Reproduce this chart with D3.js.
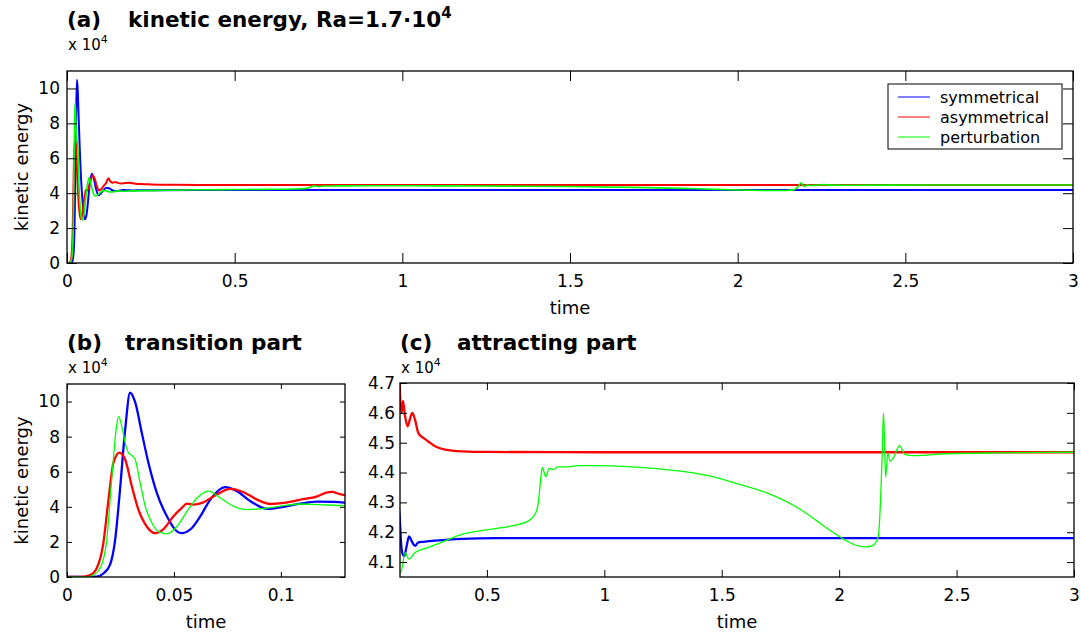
<!DOCTYPE html>
<html>
<head>
<meta charset="utf-8">
<script src="https://cdn.jsdelivr.net/npm/d3@7"></script>
<style>
body { margin: 0; background: #fff; }
text { font-family: "DejaVu Sans", sans-serif; fill: #000; }
</style>
</head>
<body>
<svg id="fig" width="1081" height="637"></svg>
<script>
// kinetic energy in units of 1e4: [time, energy]
const symmetrical = [
  [0, 0], [0.008, 0], [0.0139, 0.02], [0.017, 0.2], [0.0201, 0.69], [0.0225, 2.1],
  [0.0248, 5.0], [0.0272, 8.4], [0.0295, 10.5], [0.0319, 9.95], [0.035, 8.2],
  [0.0381, 6.5], [0.042, 4.8], [0.0467, 3.46], [0.0514, 2.6], [0.0537, 2.5],
  [0.0584, 2.79], [0.0623, 3.45], [0.067, 4.41], [0.074, 5.12], [0.0795, 4.89],
  [0.0858, 4.32], [0.0936, 3.88], [0.1014, 4.0], [0.1092, 4.18], [0.117, 4.3],
  [0.1248, 4.28], [0.1295, 4.24], [0.134, 4.17], [0.14, 4.13], [0.1485, 4.12],
  [0.1584, 4.154], [0.1683, 4.186], [0.1825, 4.166], [0.1939, 4.154], [0.2081, 4.166],
  [0.2294, 4.168], [0.2791, 4.172], [0.3926, 4.178], [0.535, 4.18], [1, 4.18],
  [1.5, 4.18], [2, 4.18], [2.5, 4.18], [3, 4.18]
];
const asymmetrical = [
  [0, 0], [0.006, 0], [0.0108, 0.11], [0.0139, 0.5], [0.017, 1.93], [0.0194, 4.41],
  [0.0217, 6.5], [0.0245, 7.09], [0.0272, 6.7], [0.0303, 5.18], [0.0334, 3.84],
  [0.0373, 2.88], [0.0412, 2.5], [0.0451, 2.73], [0.0498, 3.46], [0.0537, 3.94],
  [0.0561, 4.18], [0.0592, 4.13], [0.0631, 4.22], [0.0686, 4.6], [0.0764, 5.02],
  [0.0826, 4.83], [0.0889, 4.41], [0.0951, 4.16], [0.1014, 4.22], [0.1092, 4.41],
  [0.117, 4.6], [0.1209, 4.79], [0.124, 4.85], [0.1271, 4.74], [0.1303, 4.66],
  [0.1371, 4.6], [0.1428, 4.64], [0.1513, 4.59], [0.1627, 4.555], [0.1726, 4.58],
  [0.1825, 4.6], [0.1939, 4.577], [0.2081, 4.532], [0.2294, 4.516], [0.2507, 4.504],
  [0.2791, 4.488], [0.3217, 4.477], [0.3926, 4.471], [0.5, 4.469], [1, 4.468],
  [1.5, 4.468], [2, 4.468], [2.5, 4.468], [3, 4.468]
];
const perturbation = [
  [0, 0], [0.0092, 0], [0.0123, 0.11], [0.0155, 0.5], [0.0186, 2.12], [0.0209, 5.56],
  [0.023, 8.42], [0.0241, 9.15], [0.0256, 8.6], [0.0272, 7.66], [0.0287, 7.09],
  [0.0303, 6.93], [0.0319, 6.7], [0.0342, 5.37], [0.0366, 4.03], [0.0397, 3.08],
  [0.0436, 2.54], [0.0467, 2.46], [0.0514, 2.88], [0.0561, 3.74], [0.0608, 4.5],
  [0.0662, 4.89], [0.0717, 4.5], [0.078, 4.03], [0.0842, 3.84], [0.0936, 3.93],
  [0.1014, 4.07], [0.1092, 4.16], [0.117, 4.13], [0.1295, 4.07], [0.134, 4.066],
  [0.151, 4.132], [0.168, 4.11], [0.194, 4.132], [0.251, 4.149], [0.322, 4.171],
  [0.393, 4.193], [0.464, 4.204], [0.535, 4.212], [0.606, 4.221], [0.677, 4.238],
  [0.705, 4.26], [0.719, 4.299], [0.729, 4.377], [0.736, 4.416], [0.751, 4.386],
  [0.765, 4.414], [0.783, 4.41], [0.804, 4.419], [0.833, 4.419], [0.89, 4.423],
  [0.961, 4.423], [1.1, 4.42], [1.237, 4.412], [1.379, 4.399], [1.493, 4.38],
  [1.55, 4.366], [1.692, 4.332], [1.834, 4.277], [1.905, 4.238], [1.975, 4.199],
  [2.032, 4.171], [2.082, 4.154], [2.117, 4.151], [2.146, 4.157], [2.167, 4.188],
  [2.177, 4.321], [2.183, 4.454], [2.189, 4.6], [2.198, 4.385], [2.207, 4.466],
  [2.217, 4.438], [2.231, 4.449], [2.257, 4.49], [2.281, 4.46], [2.32, 4.457],
  [2.458, 4.463], [2.685, 4.466], [3, 4.468]
];

const seriesNames = ["symmetrical", "asymmetrical", "perturbation"];
const seriesData = [symmetrical, asymmetrical, perturbation];
const seriesColors = ["#0000ff", "#ff0000", "#00ff00"];

const ticksA = { x: [0, 0.5, 1, 1.5, 2, 2.5, 3], y: [0, 2, 4, 6, 8, 10] };
const ticksB = { x: [0, 0.05, 0.1], y: [0, 2, 4, 6, 8, 10] };
const ticksC = { x: [0.5, 1, 1.5, 2, 2.5, 3], y: [4.1, 4.2, 4.3, 4.4, 4.5, 4.6, 4.7] };

const svg = d3.select("#fig");

function panel(o) {
  const x = d3.scaleLinear().domain(o.xDomain).range([o.left, o.right]);
  const y = d3.scaleLinear().domain(o.yDomain).range([o.bottom, o.top]);
  const w = o.right - o.left, h = o.bottom - o.top;

  svg.append("clipPath").attr("id", "clip" + o.id)
    .append("rect").attr("x", o.left).attr("y", o.top).attr("width", w).attr("height", h);

  const line = d3.line().x(d => x(d[0])).y(d => y(d[1])).curve(d3.curveMonotoneX);
  const g = svg.append("g").attr("clip-path", "url(#clip" + o.id + ")");
  seriesData.forEach((data, i) => {
    g.append("path").datum(data)
      .attr("fill", "none")
      .attr("stroke", seriesColors[i])
      .attr("stroke-width", i === 2 ? o.thin : o.thick)
      .attr("stroke-linejoin", "round")
      .attr("d", line);
  });

  const style = sel => {
    sel.select(".domain").remove();
    sel.selectAll(".tick line").attr("stroke", "#000").attr("stroke-width", 1);
    sel.selectAll("text").attr("font-family", "DejaVu Sans").attr("font-size", 17).attr("fill", "#000");
  };
  svg.append("g").attr("transform", `translate(0,${o.bottom})`)
    .call(d3.axisBottom(x).tickValues(o.ticks.x).tickFormat(d3.format("")).tickSizeInner(-o.tick).tickSizeOuter(0).tickPadding(12))
    .call(style);
  svg.append("g").attr("transform", `translate(0,${o.top})`)
    .call(d3.axisTop(x).tickValues(o.ticks.x).tickFormat("").tickSizeInner(-o.tick).tickSizeOuter(0))
    .call(style);
  svg.append("g").attr("transform", `translate(${o.left},0)`)
    .call(d3.axisLeft(y).tickValues(o.ticks.y).tickFormat(d3.format("")).tickSizeInner(-o.tick).tickSizeOuter(0).tickPadding(o.ypad))
    .call(style);
  svg.append("g").attr("transform", `translate(${o.right},0)`)
    .call(d3.axisRight(y).tickValues(o.ticks.y).tickFormat("").tickSizeInner(-o.tick).tickSizeOuter(0))
    .call(style);

  svg.append("rect").attr("x", o.left).attr("y", o.top).attr("width", w).attr("height", h)
    .attr("fill", "none").attr("stroke", "#000").attr("stroke-width", 1.3);

  // panel letter + title
  svg.append("text").attr("x", o.left).attr("y", o.titleY)
    .attr("font-size", 21.5).attr("font-weight", "bold").text(o.letter);
  const t = svg.append("text").attr("x", o.titleX).attr("y", o.titleY)
    .attr("font-size", 21.5).attr("font-weight", "bold").text(o.title);
  if (o.titleSup) t.append("tspan").attr("font-size", 15).attr("dy", -9).text(o.titleSup);

  // exponent label
  const m = svg.append("text").attr("x", o.left + 1).attr("y", o.titleY + 23)
    .attr("font-size", 15).text("x 10");
  m.append("tspan").attr("font-size", 11).attr("dy", -7).text("4");

  svg.append("text").attr("x", (o.left + o.right) / 2).attr("y", o.bottom + 51)
    .attr("text-anchor", "middle").attr("font-size", 18).text("time");
  if (o.ylabel) {
    svg.append("text")
      .attr("transform", `translate(28,${(o.top + o.bottom) / 2}) rotate(-90)`)
      .attr("text-anchor", "middle").attr("font-size", 18).text("kinetic energy");
  }
  return { x, y };
}

panel({ id: "a", left: 67, right: 1073, top: 71, bottom: 263, xDomain: [0, 3], yDomain: [0, 11],
  ticks: ticksA, tick: 10, ypad: 7, thick: 2, thin: 1.6, letter: "(a)", titleX: 128, titleY: 27,
  title: "kinetic energy, Ra=1.7\u00b710", titleSup: "4", ylabel: true });
panel({ id: "b", left: 67, right: 345, top: 384, bottom: 577, xDomain: [0, 0.13], yDomain: [0, 11],
  ticks: ticksB, tick: 5, ypad: 7, thick: 2.3, thin: 1.3, letter: "(b)", titleX: 125, titleY: 350,
  title: "transition part", ylabel: true });
panel({ id: "c", left: 400, right: 1074, top: 383, bottom: 577, xDomain: [0.13, 3], yDomain: [4.05, 4.7],
  ticks: ticksC, tick: 7, ypad: 5, thick: 2.3, thin: 1.3, letter: "(c)", titleX: 457, titleY: 350,
  title: "attracting part", ylabel: false });

// legend in panel (a)
const lg = svg.append("g").attr("transform", "translate(888,84)");
lg.append("rect").attr("width", 174).attr("height", 65)
  .attr("fill", "#fff").attr("stroke", "#000").attr("stroke-width", 1);
seriesNames.forEach((name, i) => {
  const yy = 13 + i * 20;
  lg.append("line").attr("x1", 10).attr("x2", 42).attr("y1", yy).attr("y2", yy)
    .attr("stroke", seriesColors[i]).attr("stroke-width", 1);
  lg.append("text").attr("x", 52).attr("y", yy).attr("dy", "0.35em")
    .attr("font-size", 16).text(name);
});
</script>
</body>
</html>
